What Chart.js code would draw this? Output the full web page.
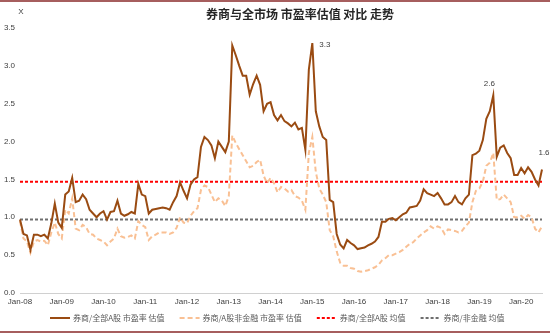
<!DOCTYPE html>
<html>
<head>
<meta charset="utf-8">
<script src="https://cdn.jsdelivr.net/npm/chart.js@4.4.1/dist/chart.umd.min.js"></script>
<style>
	html, body { margin: 0; padding: 0; background: #fff; }
	#wrap { position: relative; width: 550px; height: 333px; overflow: hidden; }
	#wrap canvas { position: absolute; left: 0; top: 0; }
	.bar { position: absolute; left: 0; width: 550px; height: 2px; background: #a65e5e; }
</style>
</head>
<body>
<div id="wrap">
	<canvas id="pe-chart" width="550" height="333"></canvas>
	<div class="bar" style="top:0"></div>
	<div class="bar" style="top:331px"></div>
</div>
<script>
// Monthly relative P/E, Jan-08 .. Jul-20
var START_YEAR = 2008;
var MONTH_NAMES = ["Jan", "Feb", "Mar", "Apr", "May", "Jun", "Jul", "Aug", "Sep", "Oct", "Nov", "Dec"];

// 券商 / 全部A股
var brokerVsAll = [
	0.97, 0.78, 0.76, 0.57, 0.77, 0.77, 0.75, 0.77, 0.72, 0.92, 1.18, 0.93,
	0.86, 1.30, 1.34, 1.52, 1.20, 1.22, 1.30, 1.24, 1.10, 1.05, 1.00, 1.05,
	1.08, 0.97, 1.07, 1.08, 1.22, 1.05, 1.02, 1.04, 1.07, 1.05, 1.44, 1.30,
	1.28, 1.05, 1.10, 1.11, 1.12, 1.13, 1.12, 1.10, 1.20, 1.28, 1.46, 1.35,
	1.25, 1.43, 1.50, 1.53, 1.93, 2.06, 2.02, 1.95, 1.78, 2.00, 1.93, 1.86,
	2.00, 3.27, 3.14, 3.00, 2.87, 2.87, 2.62, 2.76, 2.87, 2.75, 2.40, 2.50,
	2.52, 2.35, 2.28, 2.35, 2.27, 2.24, 2.20, 2.25, 2.16, 2.18, 1.89, 2.95,
	3.30, 2.40, 2.20, 2.06, 2.02, 1.23, 1.20, 0.78, 0.64, 0.59, 0.70, 0.66,
	0.63, 0.58, 0.59, 0.60, 0.63, 0.65, 0.68, 0.74, 0.94, 0.94, 0.98, 0.99,
	0.96, 1.00, 1.04, 1.06, 1.13, 1.14, 1.15, 1.22, 1.37, 1.32, 1.30, 1.28,
	1.32, 1.25, 1.17, 1.17, 1.20, 1.28, 1.20, 1.17, 1.25, 1.30, 1.82, 1.84,
	1.88, 2.02, 2.30, 2.40, 2.61, 1.80, 1.92, 1.95, 1.85, 1.78, 1.56, 1.56,
	1.65, 1.58, 1.66, 1.60, 1.50, 1.42, 1.63
];

// 券商 / A股非金融
var brokerVsNonFin = [
	0.95, 0.72, 0.68, 0.53, 0.68, 0.70, 0.68, 0.69, 0.63, 0.80, 0.93, 0.78,
	0.72, 1.10, 1.05, 1.25, 0.85, 0.83, 0.90, 0.87, 0.78, 0.77, 0.72, 0.70,
	0.68, 0.63, 0.68, 0.72, 0.85, 0.75, 0.73, 0.74, 0.76, 0.72, 0.95, 0.90,
	0.87, 0.70, 0.75, 0.77, 0.80, 0.80, 0.80, 0.78, 0.80, 0.86, 1.00, 0.93,
	0.92, 1.02, 1.08, 1.12, 1.36, 1.42, 1.40, 1.30, 1.20, 1.25, 1.22, 1.15,
	1.28, 2.08, 1.98, 1.90, 1.82, 1.74, 1.66, 1.68, 1.73, 1.76, 1.55, 1.45,
	1.52, 1.45, 1.33, 1.40, 1.38, 1.34, 1.36, 1.28, 1.26, 1.22, 1.10, 1.85,
	2.06, 1.60, 1.38, 1.30, 1.20, 0.83, 0.75, 0.55, 0.40, 0.36, 0.36, 0.33,
	0.32, 0.29, 0.28, 0.29, 0.30, 0.32, 0.34, 0.37, 0.43, 0.46, 0.50, 0.50,
	0.52, 0.54, 0.57, 0.61, 0.65, 0.67, 0.72, 0.76, 0.80, 0.83, 0.88, 0.85,
	0.88, 0.86, 0.78, 0.84, 0.83, 0.82, 0.80, 0.82, 0.88, 0.93, 1.20, 1.35,
	1.38, 1.47, 1.68, 1.72, 1.85, 1.23, 1.24, 1.30, 1.25, 1.20, 1.00, 1.00,
	1.02, 0.98, 1.03, 1.00, 0.85, 0.80, 0.88
];

// long-run averages
var MEAN_ALL = 1.47;
var MEAN_NONFIN = 0.97;

var yTicks = [0, 0.5, 1, 1.5, 2, 2.5, 3, 3.5];

// points that carry a value label: [index, dx, dy, align]
var valueLabels = [
	[84, 7, 2, "left"],
	[136, -4, -12, "center"],
	[150, 2, -17, "center"]
];

var months = [];
for (var i = 0; i < brokerVsAll.length; i++) {
	var yr = START_YEAR + Math.floor(i / 12);
	months.push(MONTH_NAMES[i % 12] + "-" + String(yr).slice(2));
}

var TEXT_COLOR = "#404040";
var CJK_FONT = "'Noto Sans CJK SC', 'Noto Sans', sans-serif";
var LATIN_FONT = "'Liberation Sans', Arial, sans-serif";

// title, unit mark and peak labels
var annotatePlugin = {
	id: "annotate",
	afterDatasetsDraw: function (chart) {
		var ctx = chart.ctx;
		var xs = chart.scales.x;
		var ys = chart.scales.y;
		ctx.save();
		ctx.fillStyle = "#262626";
		ctx.font = "bold 12px " + CJK_FONT;
		ctx.textAlign = "center";
		ctx.textBaseline = "middle";
		ctx.fillText("券商与全市场 市盈率估值 对比 走势", 300, 14);

		ctx.fillStyle = TEXT_COLOR;
		ctx.font = "8px " + LATIN_FONT;
		ctx.fillText("X", 21, 12);

		valueLabels.forEach(function (v) {
			var idx = v[0];
			var val = brokerVsAll[idx];
			var px = xs.getPixelForValue(idx);
			var py = ys.getPixelForValue(val);
			ctx.textAlign = v[3];
			ctx.fillText(val.toFixed(1), px + v[1], py + v[2]);
		});
		ctx.restore();
	},
};

// legend row along the bottom, built from the datasets
var legendRowPlugin = {
	id: "legendRow",
	afterDraw: function (chart) {
		var ctx = chart.ctx;
		var sets = chart.data.datasets;
		var lineLen = 20, gapText = 3, gapItem = 15, y = 318;
		ctx.save();
		ctx.font = "8px " + CJK_FONT;
		var widths = sets.map(function (ds) { return ctx.measureText(ds.label).width; });
		var total = 0;
		widths.forEach(function (w) { total += lineLen + gapText + w; });
		total += gapItem * (sets.length - 1);
		var x = Math.round(277 - total / 2);
		sets.forEach(function (ds, k) {
			ctx.strokeStyle = ds.borderColor;
			ctx.lineWidth = ds.borderWidth;
			ctx.setLineDash(ds.borderDash || []);
			ctx.beginPath();
			ctx.moveTo(x, y);
			ctx.lineTo(x + lineLen, y);
			ctx.stroke();
			ctx.setLineDash([]);
			ctx.fillStyle = "#595959";
			ctx.textAlign = "left";
			ctx.textBaseline = "middle";
			ctx.fillText(ds.label, x + lineLen + gapText, y);
			x += lineLen + gapText + widths[k] + gapItem;
		});
		ctx.restore();
	},
};

var ctx = document.getElementById("pe-chart").getContext("2d");

new Chart(ctx, {
	type: "line",
	data: {
		labels: months,
		datasets: [
			{
				label: "券商/全部A股 市盈率 估值",
				data: brokerVsAll,
				borderColor: "#9a4b12",
				borderWidth: 2,
				pointRadius: 0,
				tension: 0,
				order: 1,
			},
			{
				label: "券商/A股非金融 市盈率 估值",
				data: brokerVsNonFin,
				borderColor: "#f9c094",
				borderWidth: 2,
				borderDash: [5, 3],
				pointRadius: 0,
				tension: 0,
				order: 2,
			},
			{
				label: "券商/全部A股 均值",
				data: months.map(function () { return MEAN_ALL; }),
				borderColor: "#ff0000",
				borderWidth: 2,
				borderDash: [3, 2],
				pointRadius: 0,
				order: 3,
			},
			{
				label: "券商/非金融 均值",
				data: months.map(function () { return MEAN_NONFIN; }),
				borderColor: "#6e6e6e",
				borderWidth: 2,
				borderDash: [3, 2],
				pointRadius: 0,
				order: 4,
			},
		],
	},
	options: {
		responsive: false,
		animation: false,
		layout: { padding: { top: 28, right: 8, left: 0, bottom: 20 } },
		plugins: {
			title: { display: false },
			tooltip: { enabled: false },
			legend: { display: false },
		},
		scales: {
			x: {
				grid: { display: false, drawTicks: false },
				border: { display: true, color: "#d0d0d0", width: 1 },
				ticks: {
					autoSkip: false,
					maxRotation: 0,
					padding: 4,
					color: TEXT_COLOR,
					font: { family: LATIN_FONT, size: 8 },
					callback: function (val, i) {
						return i % 12 === 0 ? months[i] : null;
					},
				},
				afterFit: function (scale) {
					scale.height = 20;
				},
			},
			y: {
				min: 0,
				max: 3.5,
				grid: { display: false, drawTicks: false },
				border: { display: false },
				afterBuildTicks: function (scale) {
					scale.ticks = yTicks.map(function (v) { return { value: v }; });
				},
				ticks: {
					padding: 5,
					color: TEXT_COLOR,
					font: { family: LATIN_FONT, size: 8 },
					callback: function (val) {
						return val.toFixed(1);
					},
				},
				afterFit: function (scale) {
					scale.width = 20;
				},
			},
		},
	},
	plugins: [annotatePlugin, legendRowPlugin],
});
</script>
</body>
</html>
